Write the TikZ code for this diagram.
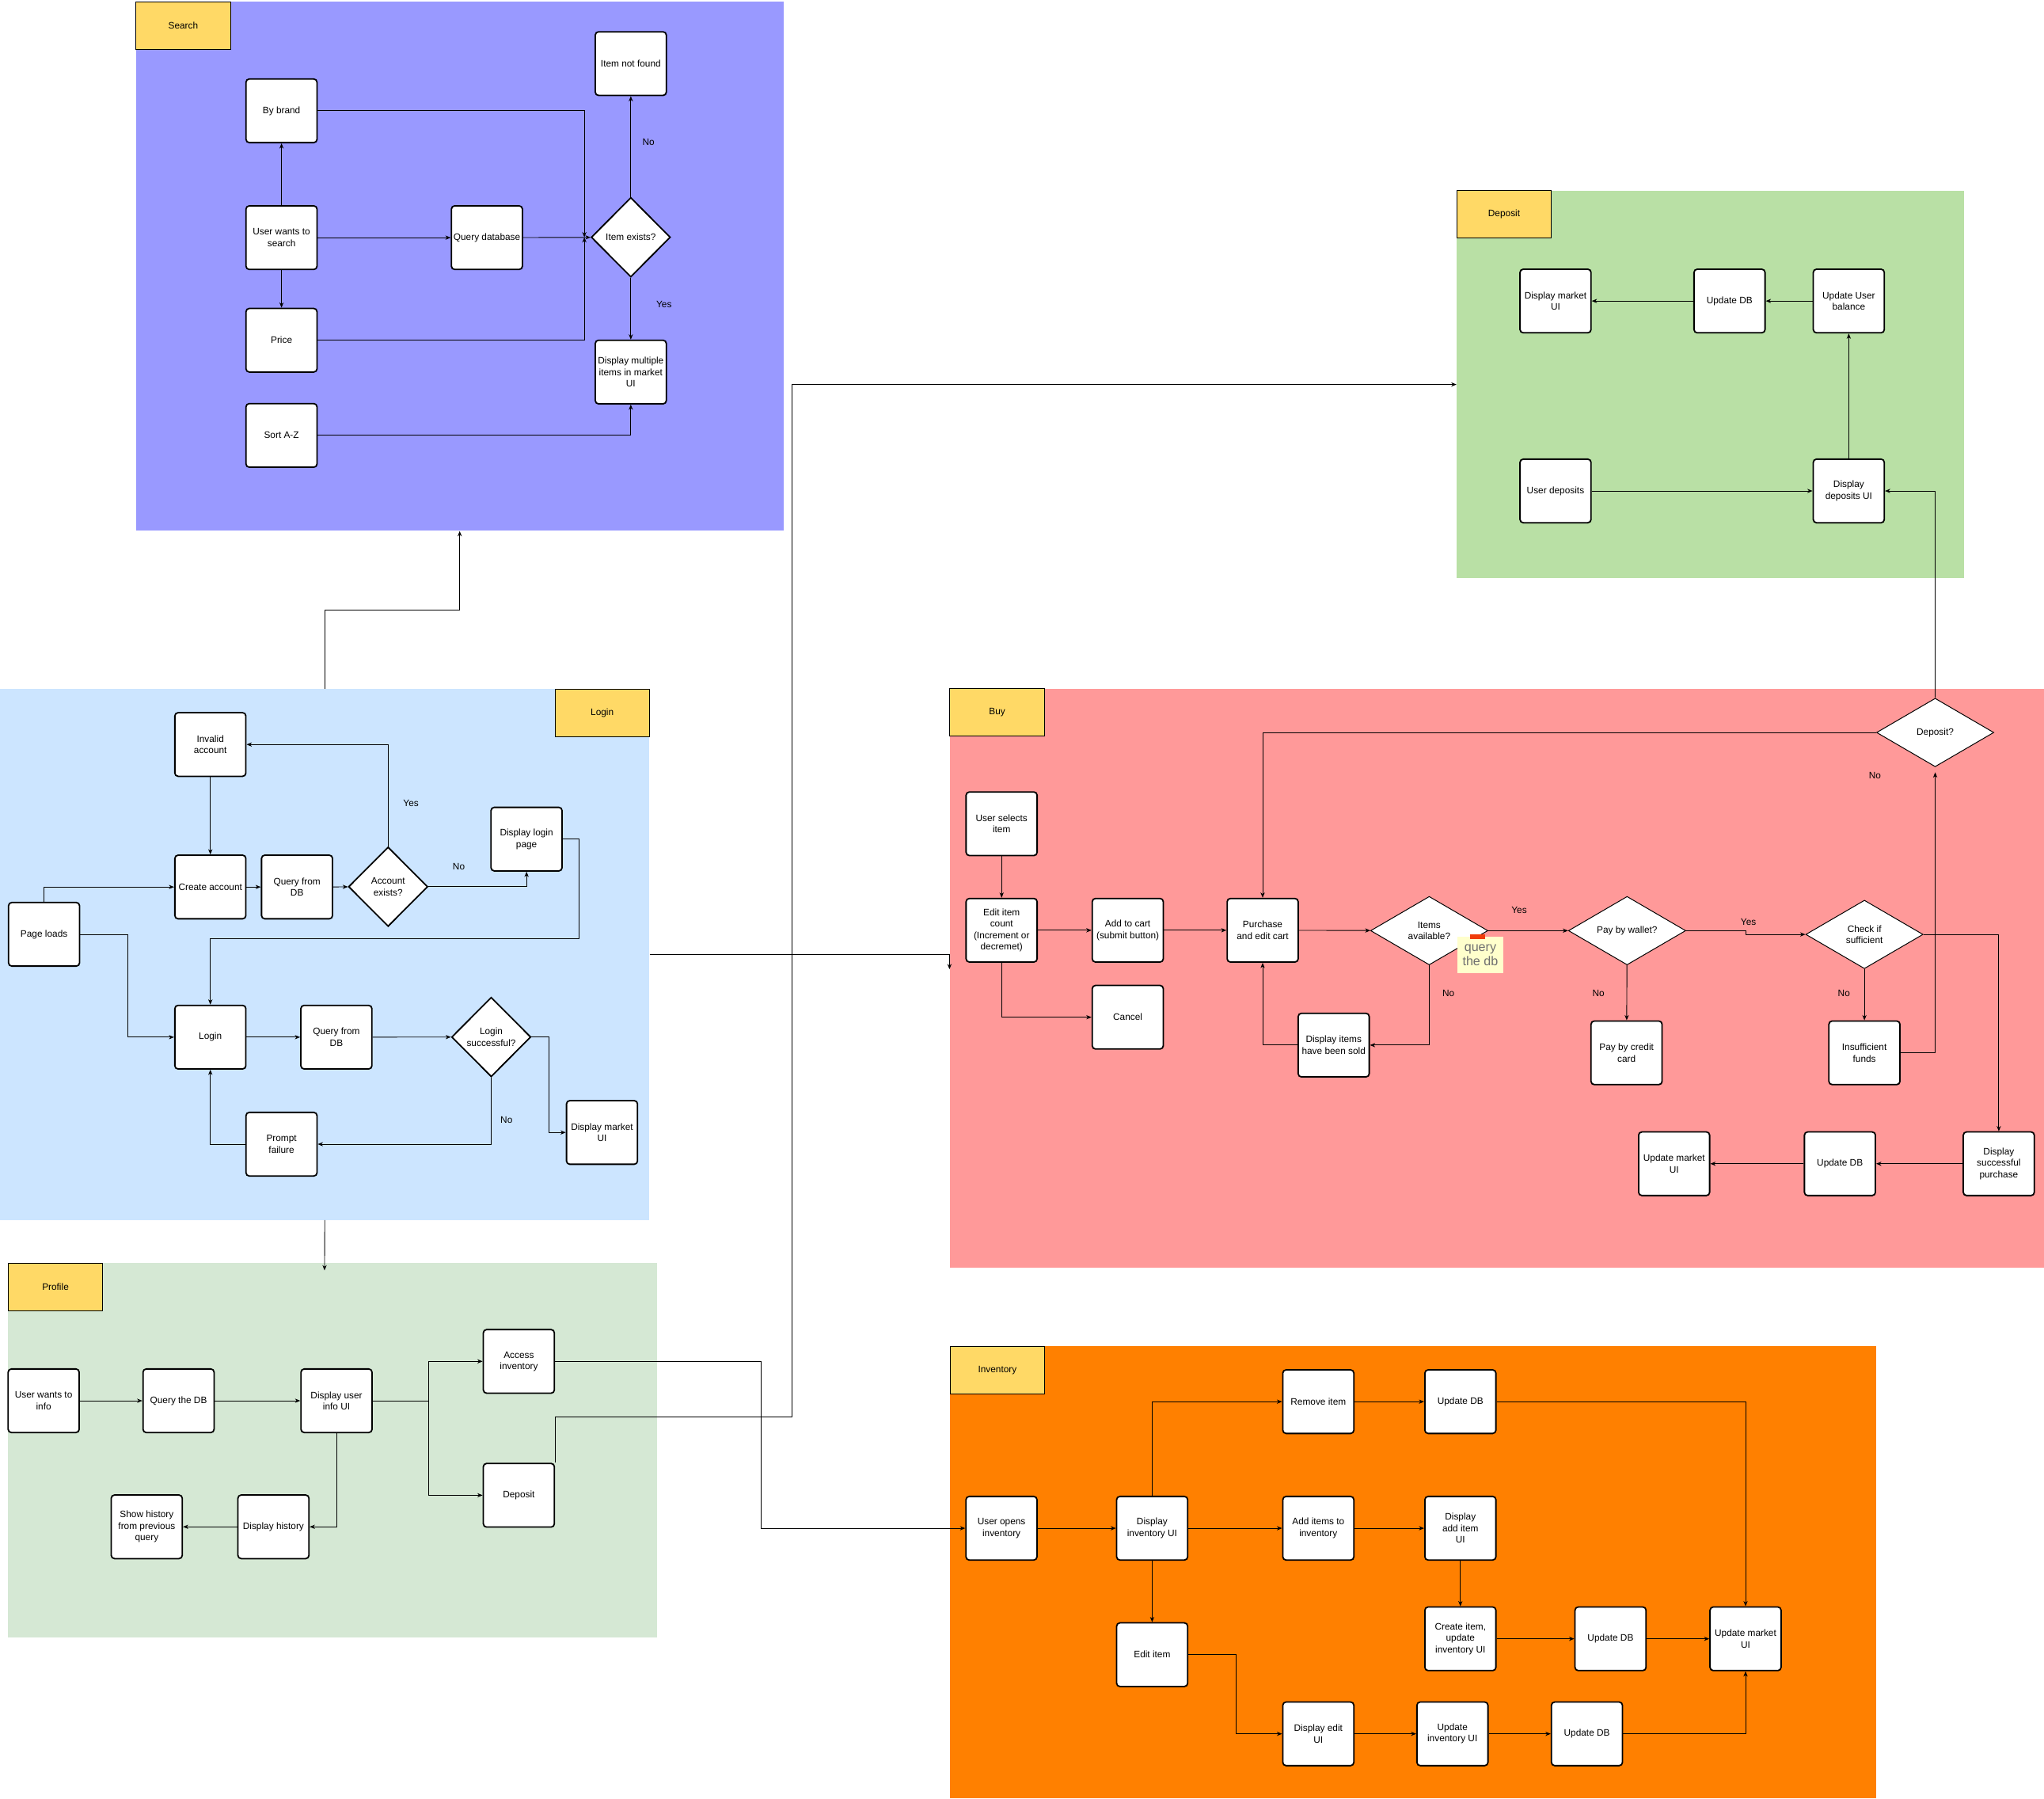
\documentclass[tikz,border=0pt]{standalone}
\usepackage{fontspec}
\setmainfont{Liberation Sans}
\usepackage{tikz}
\usetikzlibrary{arrows.meta}
\usetikzlibrary{shapes.geometric}
\definecolor{searchblue}{HTML}{9999FF}
\definecolor{loginblue}{HTML}{CCE5FF}
\definecolor{profilegreen}{HTML}{D5E8D4}
\definecolor{depositgreen}{HTML}{B9E0A5}
\definecolor{buyred}{HTML}{FF9999}
\definecolor{inventoryorange}{HTML}{FF8000}
\definecolor{tagyellow}{HTML}{FFD966}
\definecolor{noteyellow}{HTML}{FFFFCC}
\definecolor{notered}{HTML}{F03C0A}
\definecolor{notegray}{HTML}{707070}
\newcommand{\boxfont}{\fontsize{7.2}{8.7}\selectfont}
\tikzstyle{panel} = [rectangle, inner sep=0pt, anchor=north west]
\tikzstyle{tag} = [panel, draw, line width=0.6pt, fill=tagyellow, minimum width=72.5pt, minimum height=36.5pt, font=\boxfont]
\tikzstyle{stepbox} = [rectangle, rounded corners=2.5pt, draw, line width=1.1pt, fill=white, minimum width=54.5pt, minimum height=48.8pt, inner sep=1pt, align=center, font=\boxfont]
\tikzstyle{decision} = [diamond, draw, line width=1.1pt, fill=white, minimum width=60.8pt, minimum height=61pt, inner sep=0pt, align=center, font=\boxfont]
\tikzstyle{choice} = [diamond, draw, line width=0.6pt, fill=white, minimum width=90pt, minimum height=52.5pt, aspect=1.7, inner sep=0pt, align=center, font=\boxfont]
\tikzstyle{arrow} = [line width=0.55pt, -{Stealth[length=4pt, width=3.2pt, inset=1.2pt]}]
\tikzstyle{answer} = [inner sep=0pt, font=\boxfont]

\begin{document}
\begin{tikzpicture}[x=1pt, y=-1pt]
\useasboundingbox (0,0) rectangle (1568.3,1380);

% panels
\node [panel, fill=searchblue, minimum width=497pt, minimum height=406pt] (searchpanel) at (104,1) {};
\node [panel, fill=loginblue, minimum width=498pt, minimum height=407pt] (loginpanel) at (0,528.5) {};
\node [panel, fill=profilegreen, minimum width=498pt, minimum height=287.5pt] (profilepanel) at (6,968.5) {};
\node [panel, fill=depositgreen, minimum width=389pt, minimum height=297.5pt] (depositpanel) at (1117.5,146) {};
\node [panel, fill=buyred, minimum width=839.5pt, minimum height=444pt] (buypanel) at (728.5,528) {};
\node [panel, fill=inventoryorange, minimum width=710.5pt, minimum height=346.5pt] (inventorypanel) at (728.7,1032.6) {};

\node [tag] (searchtag) at (104,1) {Search};
\node [tag] (logintag) at (425.5,528.5) {Login};
\node [tag] (profiletag) at (6,968.5) {Profile};
\node [tag] (deposittag) at (1117.5,146) {Deposit};
\node [tag] (buytag) at (728.5,528) {Buy};
\node [tag] (inventorytag) at (728.7,1032.6) {Inventory};

% search
\node [stepbox] (brand) at (216,85) {By brand};
\node [stepbox] (usersearch) at (216,182.3) {User wants to\\search};
\node [stepbox] (querydb) at (373.6,182.3) {Query database};
\node [decision] (exists) at (484,182) {Item exists?};
\node [stepbox] (notfound) at (484,48.8) {Item not found};
\node [stepbox] (price) at (216,261) {Price};
\node [stepbox] (multiple) at (484,285.4) {Display multiple\\items in market\\UI};
\node [stepbox] (sortaz) at (216,334) {Sort A-Z};
\node [answer] (searchno) at (497.5,109) {No};
\node [answer] (searchyes) at (509.5,233.4) {Yes};

\draw [arrow] (usersearch) -- (querydb);
\draw [arrow] (usersearch) -- (brand);
\draw [arrow] (usersearch) -- (price);
\draw [arrow] (querydb) -- (exists);
\draw [arrow] (brand.east) -| ([xshift=-4.7pt]exists.west);
\draw [arrow] (price.east) -| ([xshift=-4.7pt]exists.west);
\draw [arrow] (exists) -- (notfound);
\draw [arrow] (exists) -- (multiple);
\draw [arrow] (sortaz.east) -| (multiple.south);

% login
\node [stepbox] (invalid) at (161.4,571.1) {Invalid\\account};
\node [stepbox] (create) at (161.4,680.4) {Create account};
\node [stepbox] (loginq1) at (227.9,680.4) {Query from\\DB};
\node [decision] (accexists) at (297.8,680.2) {Account\\exists?};
\node [stepbox] (loginpage) at (404,643.7) {Display login\\page};
\node [stepbox] (pageloads) at (33.8,716.7) {Page loads};
\node [stepbox] (login) at (161.4,795.6) {Login};
\node [stepbox] (loginq2) at (258.1,795.6) {Query from\\DB};
\node [decision] (loginok) at (376.9,795.5) {Login\\successful?};
\node [stepbox] (prompt) at (216,877.7) {Prompt\\failure};
\node [stepbox] (loginmarket) at (461.9,868.7) {Display market\\UI};
\node [answer] (loginyes) at (315.3,616.1) {Yes};
\node [answer] (loginno1) at (352,664.6) {No};
\node [answer] (loginno2) at (388.6,859.3) {No};

\draw [arrow] (pageloads.north) |- (create.west);
\draw [arrow] (pageloads.east) -- ++(36.3,0) |- (login.west);
\draw [arrow] (invalid) -- (create);
\draw [arrow] (create) -- (loginq1);
\draw [arrow] (loginq1) -- (accexists);
\draw [arrow] (accexists.north) |- (invalid.east);
\draw [arrow] (accexists.east) -| (loginpage.south);
\draw [arrow] (loginpage.east) -- ++(12.2,0) -- ++(0,76.2) -| (login.north);
\draw [arrow] (login) -- (loginq2);
\draw [arrow] (loginq2) -- (loginok);
\draw [arrow] (loginok.east) -- ++(13.5,0) |- (loginmarket.west);
\draw [arrow] (loginok.south) |- (prompt.east);
\draw [arrow] (prompt.west) -| (login.south);

% profile
\node [stepbox] (userinfo) at (33.5,1074.5) {User wants to\\info};
\node [stepbox] (profq) at (137,1074.5) {Query the DB};
\node [stepbox] (userui) at (258.2,1074.5) {Display user\\info UI};
\node [stepbox] (access) at (398.1,1044.3) {Access\\inventory};
\node [stepbox] (profdeposit) at (398.1,1147) {Deposit};
\node [stepbox] (history) at (209.8,1171.2) {Display history};
\node [stepbox] (showhist) at (112.6,1171.2) {Show history\\from previous\\query};

\draw [arrow] (userinfo) -- (profq);
\draw [arrow] (profq) -- (userui);
\draw [arrow] (userui.east) -- ++(43,0) |- (access.west);
\draw [arrow] (userui.east) -- ++(43,0) |- (profdeposit.west);
\draw [arrow] (userui.south) |- (history.east);
\draw [arrow] (history) -- (showhist);

% deposit
\node [stepbox] (depmarket) at (1193.5,230.9) {Display market\\UI};
\node [stepbox] (depdb) at (1327,230.9) {Update DB};
\node [stepbox] (balance) at (1418.5,230.9) {Update User\\balance};
\node [stepbox] (userdep) at (1193.5,376.6) {User deposits};
\node [stepbox] (depui) at (1418.5,376.6) {Display\\deposits UI};

\draw [arrow] (userdep) -- (depui);
\draw [arrow] (depui) -- (balance);
\draw [arrow] (balance) -- (depdb);
\draw [arrow] (depdb) -- (depmarket);

% buy
\node [stepbox] (selects) at (768.5,631.9) {User selects\\item};
\node [stepbox] (edit) at (768.5,713.6) {Edit item\\count\\(Increment or\\decremet)};
\node [stepbox] (addcart) at (865.3,713.6) {Add to cart\\(submit button)};
\node [stepbox] (purchase) at (968.8,713.6) {Purchase\\and edit cart};
\node [choice] (avail) at (1096.6,713.9) {Items\\available?};
\node [choice] (wallet) at (1248.4,713.9) {Pay by wallet?};
\node [choice] (sufficient) at (1430.5,716.8) {Check if\\sufficient};
\node [choice] (depq) at (1484.8,561.9) {Deposit?};
\node [stepbox] (cancel) at (865.3,780.3) {Cancel};
\node [stepbox] (sold) at (1023.3,801.7) {Display items\\have been sold};
\node [stepbox] (credit) at (1248,807.6) {Pay by credit\\card};
\node [stepbox] (insufficient) at (1430.5,807.6) {Insufficient\\funds};
\node [stepbox] (success) at (1533.6,892.7) {Display\\successful\\purchase};
\node [stepbox] (buydb) at (1411.7,892.7) {Update DB};
\node [stepbox] (buymarket) at (1284.5,892.7) {Update market\\UI};
\node [rectangle, fill=noteyellow, minimum width=34.8pt, minimum height=27.9pt, inner sep=0pt, align=center, text=notegray, font=\fontsize{9.8}{11}\selectfont] (note) at (1135.8,732.6) {query\\the db};
\node [rectangle, fill=notered, minimum width=11.4pt, minimum height=3.2pt, inner sep=0pt] (notetab) at (1133.6,718.6) {};
\node [answer] (buyyes1) at (1165.6,698.3) {Yes};
\node [answer] (buyyes2) at (1341.5,707.4) {Yes};
\node [answer] (buyno1) at (1111.3,762.1) {No};
\node [answer] (buyno2) at (1226.4,762.1) {No};
\node [answer] (buyno3) at (1414.8,762.1) {No};
\node [answer] (buyno4) at (1438.6,595) {No};

\draw [arrow] (selects) -- (edit);
\draw [arrow] (edit) -- (addcart);
\draw [arrow] (addcart) -- (purchase);
\draw [arrow] (purchase) -- (avail);
\draw [arrow] (edit.south) |- (cancel.west);
\draw [arrow] (avail) -- (wallet);
\draw [arrow] (avail.south) |- (sold.east);
\draw [arrow] (sold.west) -| (purchase.south);
\draw [arrow] (wallet.east) -- ++(45.8,0) |- (sufficient.west);
\draw [arrow] (wallet) -- (credit);
\draw [arrow] (sufficient.east) -| (success.north);
\draw [arrow] (sufficient) -- (insufficient);
\draw [arrow] (insufficient.east) -| ([yshift=-4pt]depq.south);
\draw [arrow] (depq.west) -| (purchase.north);
\draw [arrow] (depq.north) |- (depui.east);
\draw [arrow] (success) -- (buydb);
\draw [arrow] (buydb) -- (buymarket);

% inventory
\node [stepbox] (remove) at (1011.5,1075.2) {Remove item};
\node [stepbox] (invdb1) at (1120.5,1075.2) {Update DB};
\node [stepbox] (opens) at (768.4,1172.3) {User opens\\inventory};
\node [stepbox] (invui) at (884,1172.3) {Display\\inventory UI};
\node [stepbox] (additems) at (1011.5,1172.3) {Add items to\\inventory};
\node [stepbox] (addui) at (1120.5,1172.3) {Display\\add item\\UI};
\node [stepbox] (createitem) at (1120.5,1257.1) {Create item,\\update\\inventory UI};
\node [stepbox] (invdb2) at (1235.7,1257.1) {Update DB};
\node [stepbox] (invmarket) at (1339.3,1257.1) {Update market\\UI};
\node [stepbox] (edititem) at (884,1269.3) {Edit item};
\node [stepbox] (editui) at (1011.5,1330) {Display edit\\UI};
\node [stepbox] (updinv) at (1114.4,1330) {Update\\inventory UI};
\node [stepbox] (invdb3) at (1217.6,1330) {Update DB};

\draw [arrow] (opens) -- (invui);
\draw [arrow] (invui) -- (additems);
\draw [arrow] (additems) -- (addui);
\draw [arrow] (invui.north) |- (remove.west);
\draw [arrow] (remove) -- (invdb1);
\draw [arrow] (invdb1.east) -| (invmarket.north);
\draw [arrow] (addui) -- (createitem);
\draw [arrow] (createitem) -- (invdb2);
\draw [arrow] (invdb2) -- (invmarket);
\draw [arrow] (invui) -- (edititem);
\draw [arrow] (edititem.east) -- ++(36.8,0) |- (editui.west);
\draw [arrow] (editui) -- (updinv);
\draw [arrow] (updinv) -- (invdb3);
\draw [arrow] (invdb3.east) -| (invmarket.south);

% between panels
\coordinate (profentry) at (249,974.5);
\coordinate (buyentry) at (728.5,743.5);
\draw [arrow] (loginpanel.north) -- ++(0,-60.5) -| (searchpanel.south);
\draw [arrow] (loginpanel.south) -- (profentry);
\draw [arrow] (loginpanel.east) -| (buyentry);
\draw [arrow] (profdeposit.north east) |- (607.7,1086.6) |- (depositpanel.west);
\draw [arrow] (access.east) -- ++(158,0) |- (opens.west);
\end{tikzpicture}
\end{document}
